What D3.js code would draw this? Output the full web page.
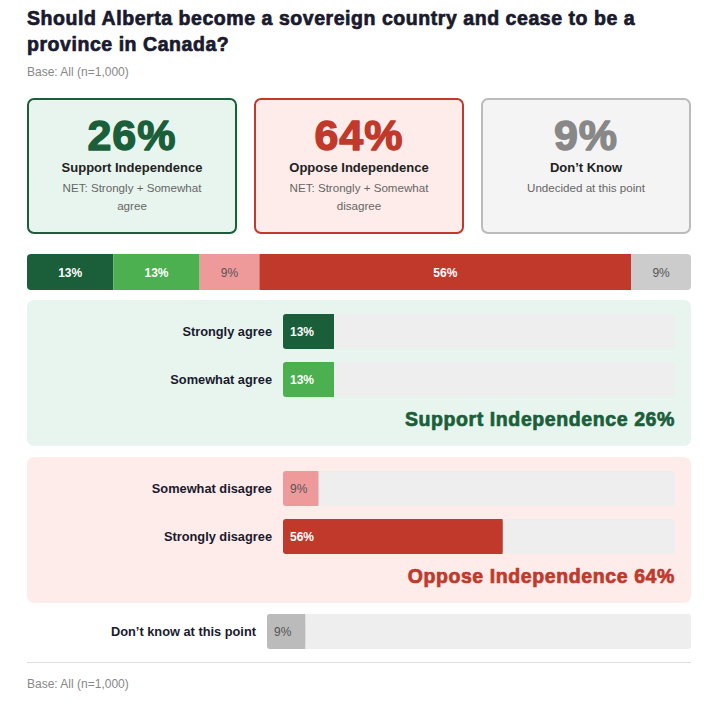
<!DOCTYPE html>
<html>
<head>
<meta charset="utf-8">
<script src="https://cdn.jsdelivr.net/npm/d3@7"></script>
<style>
  body { margin: 0; background: #fff; }
  svg { display: block; font-family: "Liberation Sans", Arial, sans-serif; }
  .heavy { paint-order: stroke; stroke-linejoin: round; }
</style>
</head>
<body>
<svg id="chart" width="713" height="702"></svg>
<script>
// --- data ---
const titleLines = ["Should Alberta become a sovereign country and cease to be a", "province in Canada?"];
const baseNote = "Base: All (n=1,000)";

const cardValues = [26, 64, 9];
const cardTitles = ["Support Independence", "Oppose Independence", "Don’t Know"];
const cardNotes = [["NET: Strongly + Somewhat", "agree"], ["NET: Strongly + Somewhat", "disagree"], ["Undecided at this point"]];

const answerLabels = ["Strongly agree", "Somewhat agree", "Somewhat disagree", "Strongly disagree", "Don’t know at this point"];
const answerValues = [13, 13, 9, 56, 9];

const groupNames = ["Support Independence", "Oppose Independence"];
const groupTotals = [26, 64];

// --- styles ---
const segColor = ["#1b5e3a", "#4caf50", "#ef9a9a", "#c0392b", "#cccccc"];
const segText = ["#fff", "#fff", "#555", "#fff", "#555"];
const segWeight = ["bold", "bold", "normal", "bold", "normal"];
const cardStyle = [
  { bg: "#e8f5ee", stroke: "#1b5e3a", num: "#1b5e3a" },
  { bg: "#fdecea", stroke: "#c0392b", num: "#c0392b" },
  { bg: "#f4f4f4", stroke: "#bbbbbb", num: "#888888" }
];
const groupStyle = [
  { bg: "#e8f5ee", text: "#1b5e3a" },
  { bg: "#fdecea", text: "#c0392b" }
];

const svg = d3.select("#chart");
const left = 27, right = 691;
const ink = "#1a1a2e";

// title
svg.append("g").selectAll("text")
  .data(titleLines)
  .join("text")
  .attr("class", "heavy")
  .attr("x", left)
  .attr("y", (d, i) => 25 + i * 26)
  .attr("font-size", 19.5)
  .attr("font-weight", "bold")
  .attr("letter-spacing", 0.55)
  .attr("fill", ink)
  .attr("stroke", ink).attr("stroke-width", 0.7)
  .text(d => d);

svg.append("text")
  .attr("x", left).attr("y", 76)
  .attr("font-size", 12).attr("fill", "#888")
  .text(baseNote);

// cards
const cardX = d3.scaleBand().domain(d3.range(3)).range([left, right]).paddingInner(17 / 227);
const cards = svg.append("g").selectAll("g")
  .data(cardValues)
  .join("g")
  .attr("transform", (d, i) => `translate(${cardX(i)},98)`);

cards.append("rect")
  .attr("x", 1).attr("y", 1)
  .attr("width", cardX.bandwidth() - 2).attr("height", 134)
  .attr("rx", 6)
  .attr("fill", (d, i) => cardStyle[i].bg)
  .attr("stroke", (d, i) => cardStyle[i].stroke)
  .attr("stroke-width", 2);

cards.append("text")
  .attr("class", "heavy")
  .attr("x", cardX.bandwidth() / 2).attr("y", 52)
  .attr("text-anchor", "middle")
  .attr("font-size", 43).attr("font-weight", "bold")
  .attr("letter-spacing", 1)
  .attr("fill", (d, i) => cardStyle[i].num)
  .attr("stroke", (d, i) => cardStyle[i].num).attr("stroke-width", 1.4)
  .text(d => d + "%");

cards.append("text")
  .attr("x", cardX.bandwidth() / 2).attr("y", 74)
  .attr("text-anchor", "middle")
  .attr("font-size", 13).attr("font-weight", "bold")
  .attr("fill", "#222")
  .text((d, i) => cardTitles[i]);

cards.each(function (d, i) {
  d3.select(this).selectAll("text.note")
    .data(cardNotes[i])
    .join("text")
    .attr("class", "note")
    .attr("x", cardX.bandwidth() / 2)
    .attr("y", (n, j) => 94 + j * 18)
    .attr("text-anchor", "middle")
    .attr("font-size", 11.6).attr("fill", "#666")
    .text(n => n);
});

// stacked bar
const xStack = d3.scaleLinear().domain([0, d3.sum(answerValues)]).range([left, right]);
const stackStart = d3.cumsum([0, ...answerValues]);
const stackTop = 254, stackH = 36;

svg.append("clipPath").attr("id", "stackClip")
  .append("rect")
  .attr("x", left).attr("y", stackTop)
  .attr("width", right - left).attr("height", stackH).attr("rx", 4);

const stack = svg.append("g").attr("clip-path", "url(#stackClip)");
stack.selectAll("rect")
  .data(answerValues)
  .join("rect")
  .attr("x", (d, i) => xStack(stackStart[i]))
  .attr("y", stackTop)
  .attr("width", d => xStack(d) - xStack(0))
  .attr("height", stackH)
  .attr("fill", (d, i) => segColor[i]);

svg.append("g").selectAll("text")
  .data(answerValues)
  .join("text")
  .attr("x", (d, i) => xStack(stackStart[i] + d / 2))
  .attr("y", stackTop + stackH / 2 + 4.5)
  .attr("text-anchor", "middle")
  .attr("font-size", 12)
  .attr("font-weight", (d, i) => segWeight[i])
  .attr("fill", (d, i) => segText[i])
  .text(d => d + "%");

// grouped panels
const barH = 35, rowGap = 48;
const panelTop = [300, 457];
const xRow = d3.scaleLinear().domain([0, 100]).range([0, 392]);

function barRow(g, i, x0, y0, scale, fill) {
  const w = scale.range()[1];
  g.append("rect")
    .attr("x", x0).attr("y", y0).attr("width", w).attr("height", barH)
    .attr("rx", 3).attr("fill", "#eeeeee");
  g.append("rect")
    .attr("x", x0).attr("y", y0).attr("width", scale(answerValues[i])).attr("height", barH)
    .attr("rx", 3).attr("fill", fill);
  g.append("rect")
    .attr("x", x0 + 4).attr("y", y0).attr("width", Math.max(0, scale(answerValues[i]) - 4)).attr("height", barH)
    .attr("fill", fill);
  g.append("text")
    .attr("x", x0 - 11).attr("y", y0 + barH / 2 + 4.5)
    .attr("text-anchor", "end")
    .attr("font-size", 12.8).attr("font-weight", "bold")
    .attr("fill", ink)
    .text(answerLabels[i]);
  g.append("text")
    .attr("x", x0 + 7).attr("y", y0 + barH / 2 + 4.5)
    .attr("font-size", 12)
    .attr("font-weight", segWeight[i])
    .attr("fill", segText[i])
    .text(answerValues[i] + "%");
}

groupNames.forEach((name, gi) => {
  const g = svg.append("g");
  const top = panelTop[gi];
  g.append("rect")
    .attr("x", left).attr("y", top)
    .attr("width", right - left).attr("height", 146)
    .attr("rx", 7).attr("fill", groupStyle[gi].bg);
  [gi * 2, gi * 2 + 1].forEach((ai, k) => {
    barRow(g, ai, 283, top + 14 + k * rowGap, xRow, segColor[ai]);
  });
  g.append("text")
    .attr("class", "heavy")
    .attr("x", 675).attr("y", top + 126)
    .attr("text-anchor", "end")
    .attr("font-size", 19.5).attr("font-weight", "bold")
    .attr("letter-spacing", 0.6)
    .attr("fill", groupStyle[gi].text)
    .attr("stroke", groupStyle[gi].text).attr("stroke-width", 0.7)
    .text(`${name} ${groupTotals[gi]}%`);
});

// don't know row
const xDk = d3.scaleLinear().domain([0, 100]).range([0, 424]);
barRow(svg.append("g"), 4, 267, 614, xDk, "#bbbbbb");

// footer
svg.append("line")
  .attr("x1", left).attr("x2", right)
  .attr("y1", 662.5).attr("y2", 662.5)
  .attr("stroke", "#dddddd");

svg.append("text")
  .attr("x", left).attr("y", 688)
  .attr("font-size", 12).attr("fill", "#888")
  .text(baseNote);
</script>
</body>
</html>
